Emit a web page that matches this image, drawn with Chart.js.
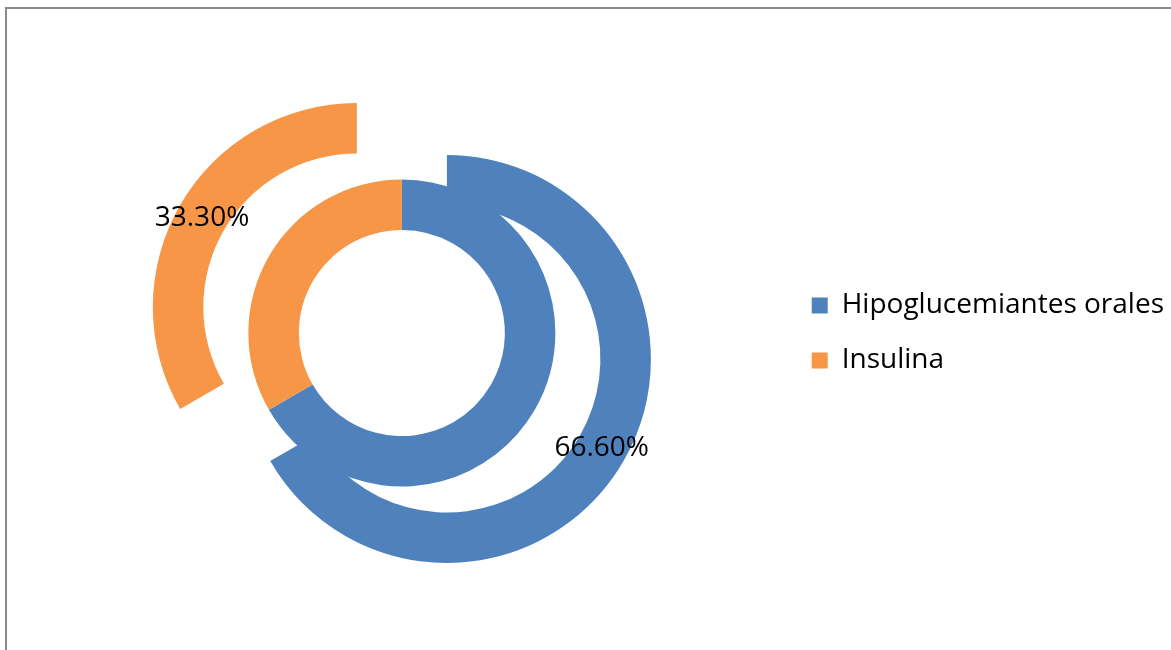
<!DOCTYPE html>
<html>
<head>
<meta charset="utf-8">
<script src="https://cdn.jsdelivr.net/npm/chart.js@4.4.1/dist/chart.umd.min.js"></script>
<style>
  html, body { margin: 0; padding: 0; background: #fff; overflow: hidden; }
  #frame {
    position: absolute; left: 5px; top: 7px;
    width: 2000px; height: 2000px;
    border: 2px solid #8a8a8a;
  }
  #wrap { position: absolute; left: 0; top: 0; width: 1174px; height: 650px; }
</style>
</head>
<body>
<div id="frame"></div>
<div id="wrap"><canvas id="treatmentChart"></canvas></div>
<script>
const labels = ['Hipoglucemiantes orales', 'Insulina'];
const outerValues = [66.6, 33.3];
const innerValues = [66.6, 33.3];
const sliceColors = ['#4f81bd', '#f79646'];

// pulls each slice of one ring away from the centre along its mid angle
const explodeRing = {
    id: 'explodeRing',
    afterDatasetsUpdate(chart, args, opts) {
        const meta = chart.getDatasetMeta(opts.dataset);
        meta.data.forEach(arc => {
            const mid = (arc.startAngle + arc.endAngle) / 2;
            arc.x += Math.cos(mid) * opts.distance;
            arc.y += Math.sin(mid) * opts.distance;
        });
    }
};

// percentage labels in the middle of each exploded slice
const sliceLabels = {
    id: 'sliceLabels',
    afterDatasetsDraw(chart, args, opts) {
        const ctx = chart.ctx;
        const meta = chart.getDatasetMeta(opts.dataset);
        const values = chart.data.datasets[opts.dataset].data;
        ctx.save();
        ctx.font = opts.font;
        ctx.fillStyle = opts.color;
        ctx.textAlign = 'center';
        ctx.textBaseline = 'middle';
        meta.data.forEach((arc, i) => {
            const mid = (arc.startAngle + arc.endAngle) / 2;
            const r = (arc.innerRadius + arc.outerRadius) / 2;
            ctx.fillText(values[i].toFixed(2) + '%', arc.x + Math.cos(mid) * r, arc.y + Math.sin(mid) * r);
        });
        ctx.restore();
    }
};

new Chart(document.getElementById('treatmentChart'), {
    type: 'doughnut',
    data: {
        labels: labels,
        datasets: [
            { data: outerValues, backgroundColor: sliceColors, borderWidth: 0 },
            { data: innerValues, backgroundColor: sliceColors, borderWidth: 0 }
        ]
    },
    options: {
        responsive: true,
        maintainAspectRatio: false,
        animation: false,
        radius: 204,
        cutout: '50.5%',
        layout: { padding: { left: 19, top: 16 } },
        plugins: {
            tooltip: { enabled: false },
            legend: {
                position: 'right',
                labels: {
                    boxWidth: 16,
                    boxHeight: 16,
                    padding: 27,
                    color: '#000',
                    font: { family: 'Open Sans', size: 28 }
                }
            },
            explodeRing: { dataset: 0, distance: 52 },
            sliceLabels: { dataset: 0, font: '28px "Open Sans"', color: '#000' }
        }
    },
    plugins: [explodeRing, sliceLabels]
});
</script>
</body>
</html>
